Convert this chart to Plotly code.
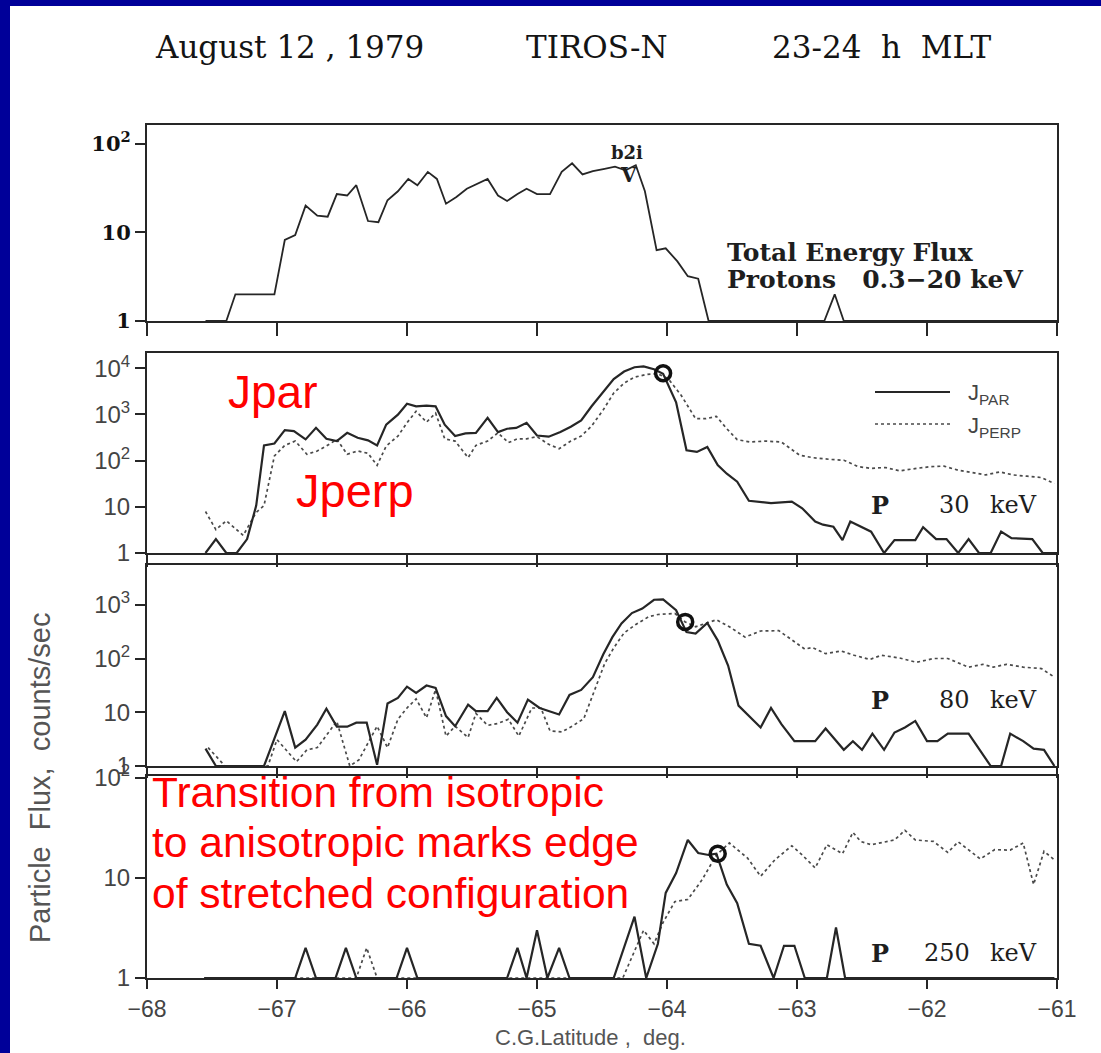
import plotly.graph_objects as go

# ---------------- data ----------------
# Total energy flux, protons 0.3-20 keV
tef_lat = [-67.55, -67.39, -67.32, -67.02, -66.94, -66.86, -66.78, -66.69, -66.61, -66.54,
           -66.46, -66.39, -66.30, -66.22, -66.15, -66.07, -65.99, -65.92, -65.84, -65.77,
           -65.70, -65.62, -65.54, -65.46, -65.38, -65.30, -65.23, -65.15, -65.08, -65.00,
           -64.90, -64.81, -64.73, -64.65, -64.57, -64.48, -64.40, -64.32, -64.24, -64.17,
           -64.08, -64.01, -63.92, -63.84, -63.76, -63.68, -62.79, -62.71, -62.64, -61.00]
tef_flux = [1, 1, 2, 2, 8.2, 9.3, 20, 15.4, 15, 27,
            26, 34, 13.4, 13, 23, 29, 40, 34, 48, 40,
            21, 25, 31, 35, 40, 26, 22.6, 27, 31, 27,
            27, 48, 60, 45, 49, 52, 55, 50, 57, 29,
            6.3, 6.6, 4.7, 3.2, 3.0, 1, 1, 2, 1, 1]

# 30 keV protons
p30_par_lat = [-67.55, -67.47, -67.39, -67.31, -67.23, -67.16, -67.10, -67.02, -66.94, -66.87,
               -66.78, -66.70, -66.62, -66.54, -66.46, -66.38, -66.30, -66.23, -66.16, -66.07,
               -66.00, -65.93, -65.85, -65.78, -65.71, -65.63, -65.55, -65.47, -65.38, -65.30,
               -65.23, -65.16, -65.08, -65.00, -64.91, -64.82, -64.74, -64.66, -64.58, -64.49,
               -64.41, -64.33, -64.25, -64.18, -64.10, -64.03, -63.93, -63.85, -63.77, -63.69,
               -63.61, -63.54, -63.46, -63.37, -63.28, -63.20, -63.04, -62.96, -62.86, -62.80,
               -62.72, -62.65, -62.59, -62.51, -62.43, -62.33, -62.25, -62.09, -62.03, -61.93,
               -61.85, -61.76, -61.68, -61.60, -61.51, -61.43, -61.35, -61.19, -61.11, -61.00]
p30_par = [1, 2, 1, 1, 2, 10.6, 214, 235, 457, 435,
           288, 512, 297, 265, 400, 312, 275, 214, 600, 990,
           1700, 1500, 1550, 1500, 600, 340, 390, 400, 840, 415,
           490, 510, 660, 350, 330, 415, 540, 745, 1500, 3150,
           5800, 8500, 10500, 11000, 9500, 7600, 1830, 167, 154, 198,
           80, 52, 35, 13.5, 12.9, 12, 13, 9.3, 4.8, 4.1,
           3.7, 1.9, 4.8, 3.7, 2.9, 1, 1.9, 1.9, 3.6, 2,
           2, 1, 2, 1, 1, 2.9, 2.1, 2, 1, 1]
p30_perp_lat = [-67.55, -67.47, -67.39, -67.26, -67.16, -67.10, -67.02, -66.94, -66.86, -66.77,
                -66.69, -66.62, -66.54, -66.46, -66.38, -66.30, -66.23, -66.16, -66.07, -66.00,
                -65.93, -65.85, -65.78, -65.71, -65.63, -65.53, -65.47, -65.38, -65.30, -65.22,
                -65.15, -65.08, -65.00, -64.91, -64.83, -64.74, -64.66, -64.58, -64.49, -64.41,
                -64.33, -64.25, -64.15, -64.07, -63.99, -63.89, -63.78, -63.70, -63.62, -63.54,
                -63.46, -63.36, -63.25, -63.12, -62.98, -62.88, -62.74, -62.64, -62.53, -62.43,
                -62.32, -62.21, -62.08, -61.97, -61.87, -61.76, -61.65, -61.55, -61.44, -61.34,
                -61.23, -61.12, -61.02]
p30_perp = [7.9, 3.2, 5, 2.4, 7.6, 10.6, 126, 214, 265, 137,
            162, 207, 288, 137, 162, 144, 79, 207, 340, 660,
            1170, 680, 1070, 297, 265, 116, 214, 265, 400, 245,
            297, 297, 330, 225, 181, 265, 340, 560, 1260, 2900,
            4750, 6400, 7400, 7600, 5900, 2570, 810, 810, 910, 490,
            284, 253, 265, 253, 131, 116, 106, 102, 74, 68,
            71, 60, 68, 74, 76, 62, 55, 49, 57, 49,
            46, 43, 32]

# 80 keV protons
p80_par_lat = [-67.55, -67.47, -67.10, -66.94, -66.86, -66.78, -66.69, -66.62, -66.54, -66.46,
               -66.39, -66.31, -66.23, -66.15, -66.07, -66.00, -65.93, -65.85, -65.78, -65.70,
               -65.63, -65.53, -65.47, -65.38, -65.31, -65.23, -65.15, -65.07, -64.98, -64.90,
               -64.83, -64.75, -64.66, -64.57, -64.49, -64.42, -64.35, -64.27, -64.19, -64.10,
               -64.03, -63.93, -63.85, -63.78, -63.69, -63.61, -63.53, -63.45, -63.37, -63.28,
               -63.20, -63.12, -63.02, -62.86, -62.78, -62.72, -62.64, -62.57, -62.50, -62.42,
               -62.33, -62.25, -62.17, -62.09, -62.00, -61.92, -61.84, -61.68, -61.51, -61.43,
               -61.36, -61.26, -61.18, -61.10, -61.02]
p80_par = [2.1, 1, 1, 10.5, 2.2, 3.1, 5.9, 11.6, 5.4, 5.4,
           6.4, 6.4, 1.05, 14.5, 18.5, 30, 23, 31.5, 28.5, 8.5,
           5.5, 13.9, 10.5, 10.5, 18.5, 10, 6.4, 17.2, 12, 10.5,
           9.1, 21, 26, 45, 120, 250, 450, 700, 850, 1240,
           1260, 790, 310, 290, 460, 218, 74, 13.3, 8.6, 5.2,
           12, 6.0, 2.9, 2.9, 5.0, 3.4, 2.0, 2.9, 2.0, 4.0,
           2.0, 4.2, 5.2, 6.9, 2.9, 2.9, 4.0, 4.0, 1, 1,
           4.0, 2.9, 2.1, 2.0, 1]
p80_perp_lat = [-67.53, -67.40, -67.07, -67.00, -66.85, -66.77, -66.69, -66.54, -66.44, -66.37,
                -66.23, -66.15, -66.07, -66.00, -65.93, -65.85, -65.78, -65.70, -65.63, -65.53,
                -65.47, -65.38, -65.30, -65.22, -65.14, -65.04, -64.97, -64.90, -64.81, -64.73,
                -64.64, -64.56, -64.48, -64.41, -64.33, -64.24, -64.14, -64.07, -63.94, -63.86,
                -63.78, -63.62, -63.52, -63.40, -63.28, -63.14, -63.04, -62.94, -62.88, -62.78,
                -62.66, -62.56, -62.44, -62.35, -62.21, -62.08, -61.95, -61.84, -61.68, -61.57,
                -61.49, -61.39, -61.26, -61.12, -61.02]
p80_perp = [2.2, 1, 1, 3.1, 1.2, 2.0, 2.2, 6.8, 1, 1.3,
            5.5, 2.2, 7.4, 12, 17.7, 7.9, 26.5, 3.6, 5.5, 3.4,
            9.5, 5.7, 6.2, 7.4, 3.6, 12, 12, 4.5, 4.3, 5.5,
            7.6, 24, 80, 157, 300, 430, 600, 660, 690, 480,
            390, 525, 390, 250, 325, 330, 220, 150, 160, 123,
            138, 115, 96, 115, 102, 85, 100, 100, 69, 78,
            69, 78, 69, 65, 45]

# 250 keV protons
p250_par_lat = [-67.56, -66.86, -66.78, -66.70, -66.55, -66.47, -66.39, -66.08, -66.00, -65.92,
                -65.23, -65.15, -65.08, -65.00, -64.92, -64.83, -64.75, -64.41, -64.25, -64.16,
                -64.07, -64.01, -63.93, -63.84, -63.76, -63.68, -63.62, -63.54, -63.46, -63.37,
                -63.28, -63.18, -63.10, -63.02, -62.94, -62.77, -62.70, -62.63, -61.02]
p250_par = [1, 1, 2, 1, 1, 2, 1, 1, 2, 1,
            1, 2, 1, 3, 1, 2, 1, 1, 4.1, 1,
            2.2, 7.1, 11.2, 24, 17.8, 17, 17.5, 8.6, 5.6, 2.2,
            2.1, 1, 2.1, 2.1, 1, 1, 3.2, 1, 1]
p250_perp_lat = [-67.56, -66.39, -66.31, -66.23, -64.34, -64.18, -64.10, -64.03, -63.94, -63.84,
                 -63.73, -63.62, -63.52, -63.38, -63.28, -63.17, -63.04, -62.96, -62.86, -62.77,
                 -62.65, -62.57, -62.51, -62.43, -62.25, -62.17, -62.09, -61.95, -61.84, -61.76,
                 -61.59, -61.48, -61.36, -61.26, -61.18, -61.10, -61.02]
p250_perp = [1, 1, 2, 1, 1, 3.0, 2.2, 3.6, 5.8, 6.1,
             9.6, 17, 22.4, 15.8, 10.4, 15.2, 21, 17, 12.6, 21.5,
             17.5, 28.6, 23.2, 21.5, 24, 30, 24, 23.2, 18, 23,
             15.5, 19.2, 19, 22.4, 8.6, 18.5, 15.2]

# isotropy boundary (one point per energy channel: 30, 80, 250 keV)
iso_lat = [-64.03, -63.86, -63.61]
iso_flux = [7800, 480, 17.5]

lat_ticks = [-68, -67, -66, -65, -64, -63, -62, -61]
lat_labels = ["\u221268", "\u221267", "\u221266", "\u221265", "\u221264", "\u221263", "\u221262", "\u221261"]

# ---------------- layout geometry (pixels) ----------------
FIG_W, FIG_H = 1101, 1053
L, R, T, B = 147, 1057, 125, 978
X_RANGE = [-68, -61]


def fx(x):
    return (x - L) / (R - L)


def fy(y):
    return 1 - (y - T) / (B - T)


panel_px = [(125, 321), (353, 553), (565, 766), (776, 978)]
panel_decades = [2.21, 4.33, 3.74, 2.02]
ytick_sets = [
    ([1, 10, 100], ["1", "10", "10<sup>2</sup>"]),
    ([1, 10, 100, 1000, 10000], ["1", "10", "10<sup>2</sup>", "10<sup>3</sup>", "10<sup>4</sup>"]),
    ([1, 10, 100, 1000], ["1", "10", "10<sup>2</sup>", "10<sup>3</sup>"]),
    ([1, 10, 100], ["1", "10", "10<sup>2</sup>"]),
]
x_ticklen = [13, 12, 10, 9]
x_halflen = [8, 12, 10, 7]
Y_MINORLEN = 6

half_deg = [lat_ticks[0] + 0.5 + k for k in range(len(lat_ticks) - 1)]


def sub_decades(n_dec):
    vals = []
    for d in range(int(n_dec) + 1):
        for m in range(2, 10):
            v = m * 10 ** d
            if v < 10 ** n_dec:
                vals.append(v)
    return vals


INK = "#262626"
DOT = "#4a4a4a"
SERIF = "DejaVu Serif, serif"
SANS = "Liberation Sans, Arial, sans-serif"

fig = go.Figure()

solid = dict(color=INK, width=2.2)
dotted = dict(color=DOT, width=1.7, dash="dot")

fig.add_trace(go.Scatter(x=tef_lat, y=tef_flux, mode="lines", line=dict(color=INK, width=1.8),
                         xaxis="x", yaxis="y", showlegend=False))
fig.add_trace(go.Scatter(x=p30_perp_lat, y=p30_perp, mode="lines", line=dotted,
                         xaxis="x2", yaxis="y2", showlegend=False))
fig.add_trace(go.Scatter(x=p30_par_lat, y=p30_par, mode="lines", line=solid,
                         xaxis="x2", yaxis="y2", showlegend=False))
fig.add_trace(go.Scatter(x=p80_perp_lat, y=p80_perp, mode="lines", line=dotted,
                         xaxis="x3", yaxis="y3", showlegend=False))
fig.add_trace(go.Scatter(x=p80_par_lat, y=p80_par, mode="lines", line=solid,
                         xaxis="x3", yaxis="y3", showlegend=False))
fig.add_trace(go.Scatter(x=p250_perp_lat, y=p250_perp, mode="lines", line=dotted,
                         xaxis="x4", yaxis="y4", showlegend=False))
fig.add_trace(go.Scatter(x=p250_par_lat, y=p250_par, mode="lines", line=solid,
                         xaxis="x4", yaxis="y4", showlegend=False))

# isotropy boundary markers
for i, ax in enumerate(["2", "3", "4"]):
    fig.add_trace(go.Scatter(x=[iso_lat[i]], y=[iso_flux[i]], mode="markers",
                             marker=dict(symbol="circle-open", size=15, color="#111",
                                         line=dict(width=3.5, color="#111")),
                             xaxis="x" + ax, yaxis="y" + ax, showlegend=False))

layout = dict(
    width=FIG_W, height=FIG_H,
    margin=dict(l=L, r=FIG_W - R, t=T, b=FIG_H - B, pad=0),
    paper_bgcolor="white", plot_bgcolor="rgba(0,0,0,0)",
    showlegend=False,
)

x_px_per_deg = (R - L) / (X_RANGE[1] - X_RANGE[0])

for i in range(4):
    n = "" if i == 0 else str(i + 1)
    top, bot = panel_px[i]
    px_per_dec = (bot - top) / panel_decades[i]
    tv, tt = ytick_sets[i]
    layout["xaxis" + n] = dict(
        domain=[0, 1], anchor="y" + n, range=X_RANGE,
        tickmode="array", tickvals=lat_ticks, ticktext=lat_labels,
        showticklabels=(i == 3),
        ticks="outside", ticklen=x_ticklen[i], tickwidth=1.6, tickcolor=INK,
        showline=True, linecolor=INK, linewidth=2, mirror=True,
        showgrid=False, zeroline=False,
        tickfont=dict(family=SANS, size=23, color="#444"),
    )
    layout["yaxis" + n] = dict(
        domain=[fy(bot), fy(top)], anchor="x" + n, type="log",
        range=[0, panel_decades[i]],
        tickmode="array", tickvals=tv, ticktext=tt,
        ticks="outside", ticklen=10, tickwidth=1.8, tickcolor=INK,
        showline=True, linecolor=INK, linewidth=2, mirror=True,
        showgrid=False, zeroline=False,
        tickfont=(dict(family=SERIF, size=21, color="#111", weight="bold")
                  if i == 0 else
                  dict(family=SANS, size=24, color="#444")),
    )
    # half-degree tick marks hanging below the panel (unclipped line markers)
    y_tick_mid = 10 ** (-(x_halflen[i] / 2) / px_per_dec)
    fig.add_trace(go.Scatter(
        x=half_deg, y=[y_tick_mid] * len(half_deg), mode="markers", cliponaxis=False,
        marker=dict(symbol="line-ns", size=x_halflen[i], color=INK,
                    line=dict(width=1.6, color=INK)),
        xaxis="x" + n, yaxis="y" + n, showlegend=False, hoverinfo="skip"))
    # sub-decade tick marks left of each log axis
    subs = sub_decades(panel_decades[i])
    x_tick_mid = X_RANGE[0] - (Y_MINORLEN / 2) / x_px_per_deg
    fig.add_trace(go.Scatter(
        x=[x_tick_mid] * len(subs), y=subs, mode="markers", cliponaxis=False,
        marker=dict(symbol="line-ew", size=Y_MINORLEN, color="#444",
                    line=dict(width=1.2, color="#444")),
        xaxis="x" + n, yaxis="y" + n, showlegend=False, hoverinfo="skip"))

fig.update_layout(**layout)

ann = []


def text(s, x, y, size, family, color="#1e1e1e", xanchor="center", yanchor="middle",
         angle=0, weight="normal"):
    ann.append(dict(text=s, x=fx(x), y=fy(y), xref="paper", yref="paper",
                    xanchor=xanchor, yanchor=yanchor, showarrow=False, textangle=angle,
                    font=dict(size=size, family=family, color=color, weight=weight)))


# heading
text("August 12 , 1979", 289, 47, 31, SERIF, color="#141414")
text("TIROS-N", 597, 47, 31, SERIF, color="#141414")
text("23-24  h  MLT", 882, 47, 31, SERIF, color="#141414")

# top panel labels
text("b2i", 627, 152, 18, SERIF, weight="bold")
text("V", 628, 175, 20, SERIF, weight="bold")
text("Total Energy Flux", 725, 252, 25, SERIF, xanchor="left", weight="bold")
text("Protons   0.3\u221220 keV", 725, 279, 25, SERIF, xanchor="left", weight="bold")

# channel labels
for yc, num in [(505, "30"), (700, "80"), (953, "250")]:
    text("P", 880, yc, 24, SERIF, weight="bold")
    text(num, 972, yc, 24, SERIF, xanchor="right")
    text("keV", 988, yc, 24, SERIF, xanchor="left")

# legend in 30 keV panel
text("J<sub>PAR</sub>", 966, 394, 22, SANS, color="#444", xanchor="left")
text("J<sub>PERP</sub>", 966, 427, 22, SANS, color="#444", xanchor="left")

# axis titles
text("C.G.Latitude ,  deg.", 590, 1037, 22, SANS, color="#555")
text("Particle  Flux,  counts/sec", 40, 778, 29, SANS, color="#555", angle=-90)

# red commentary
RED = "#ff0000"
text("Jpar", 226, 392, 46, SANS, color=RED, xanchor="left")
text("Jperp", 294, 490, 47, SANS, color=RED, xanchor="left")
text("Transition from isotropic", 150, 792, 42.5, SANS, color=RED, xanchor="left")
text("to anisotropic marks edge", 150, 842, 42.5, SANS, color=RED, xanchor="left")
text("of stretched configuration", 150, 893, 42.5, SANS, color=RED, xanchor="left")

shapes = [
    # legend samples
    dict(type="line", xref="paper", yref="paper", x0=fx(875), x1=fx(950), y0=fy(392), y1=fy(392),
         line=dict(color=INK, width=2.2)),
    dict(type="line", xref="paper", yref="paper", x0=fx(875), x1=fx(950), y0=fy(424), y1=fy(424),
         line=dict(color=DOT, width=1.7, dash="dot")),
    # slide frame
    dict(type="rect", xref="paper", yref="paper", x0=fx(-5), x1=fx(10), y0=fy(FIG_H + 5), y1=fy(-5),
         line=dict(width=0), fillcolor="#000099", layer="below"),
    dict(type="rect", xref="paper", yref="paper", x0=fx(-5), x1=fx(FIG_W + 5), y0=fy(6), y1=fy(-5),
         line=dict(width=0), fillcolor="#000099", layer="below"),
]

fig.update_layout(annotations=ann, shapes=shapes)
fig.write_html("out.html")
